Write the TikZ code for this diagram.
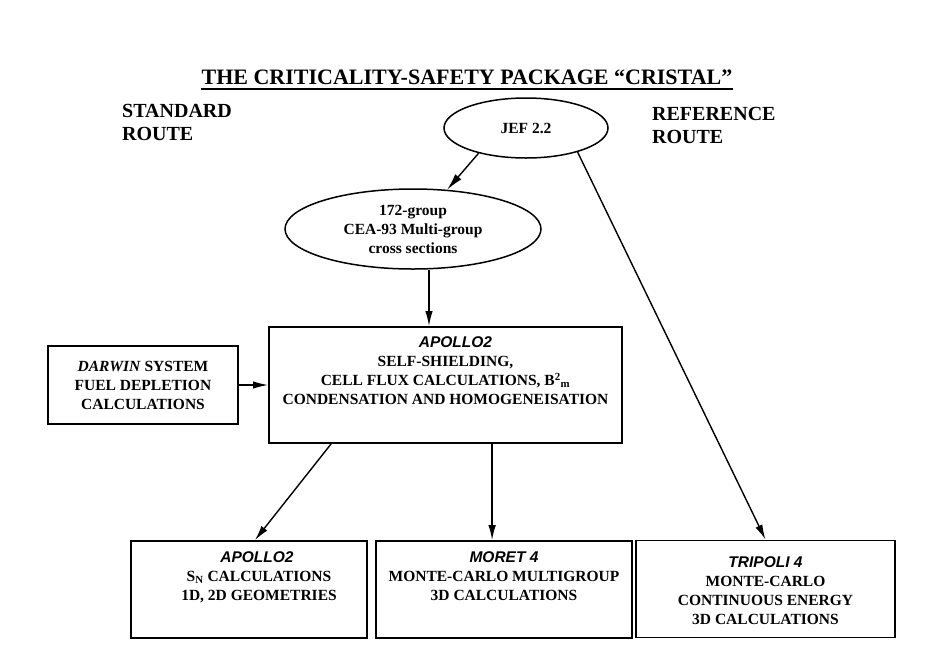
\documentclass[tikz,border=0pt]{standalone}
\usepackage{fontspec}
\setmainfont{Liberation Serif}
\newfontfamily\progfont{Liberation Sans}
\usetikzlibrary{shapes.geometric,arrows.meta}

% code names are set in a bold italic sans
\newcommand\prog[1]{{\progfont\bfseries\itshape #1}}
% top-aligned centred text block of fixed size: width, height, top gap, lines
\newcommand\boxtext[4]{\parbox[c][#2][t]{#1}{\centering\vspace*{#3}#4}}

\tikzset{
  every node/.style={font=\bfseries\fontsize{15.5}{19}\selectfont},
  box/.style={draw, line width=1.8pt, inner sep=0pt, align=center},
  oval/.style={draw, ellipse, line width=1.5pt, inner sep=0pt, align=center},
  arrow/.style={line width=1.4pt, -{Latex[length=15pt,width=7.5pt]}},
  heading/.style={font=\bfseries\fontsize{20}{23}\selectfont, align=left,
                  anchor=base west, inner sep=0pt},
}

\begin{document}
\begin{tikzpicture}[x=1pt, y=-1pt]
\useasboundingbox (0,0) rectangle (934,654);

% title, underlined with a heavy rule
\node[font=\bfseries\fontsize{22}{26}\selectfont, anchor=base, inner sep=0pt]
  (title) at (467,84) {THE CRITICALITY-SAFETY PACKAGE “CRISTAL”};
\draw[line width=1.8pt] ([yshift=-5pt]title.base west) -- ([yshift=-5pt]title.base east);

% route headings (base anchor sits on the last line)
\node[heading] (std) at (122,140) {STANDARD\\ROUTE};
\node[heading] (ref) at (652,143) {REFERENCE\\ROUTE};

% data libraries
\node[oval, minimum width=164pt, minimum height=60pt] (jef) at (526,128) {JEF 2.2};
\node[oval, minimum width=256pt, minimum height=80pt] (lib) at (413,229)
  {172-group\\CEA-93 Multi-group\\cross sections};

% cell code
\node[box] (cell) at (445.5,385)
  {\boxtext{353pt}{116pt}{10pt}{\hspace*{20pt}\prog{APOLLO2}\\
    SELF-SHIELDING,\\
    CELL FLUX CALCULATIONS, B\textsuperscript{2}\textsubscript{m}\\
    CONDENSATION AND HOMOGENEISATION}};

\node[box, minimum width=190pt, minimum height=78pt] (darwin) at (143,385)
  {\textit{DARWIN} SYSTEM\\FUEL DEPLETION\\CALCULATIONS};

% core calculation codes
\node[box] (sn) at (249,589.5)
  {\boxtext{236pt}{97pt}{11pt}{\hspace*{16pt}\prog{APOLLO2}\\
    \hspace*{20pt}S\textsubscript{N} CALCULATIONS\\
    \hspace*{20pt}1D, 2D GEOMETRIES}};
\node[box] (moret) at (504,589.5)
  {\boxtext{256pt}{97pt}{11pt}{\prog{MORET 4}\\MONTE-CARLO MULTIGROUP\\3D CALCULATIONS}};
\node[box] (tripoli) at (765.5,589)
  {\boxtext{259pt}{97pt}{16pt}{\prog{TRIPOLI 4}\\MONTE-CARLO\\CONTINUOUS ENERGY\\3D CALCULATIONS}};

% connectors
\draw[arrow, -{Latex[length=17pt,width=8pt]}] (jef.208) -- (lib.49);
\draw[arrow] (jef.-25) -- (tripoli.north);
\draw[arrow] ([xshift=16pt]lib.south) -- ([xshift=16pt]lib.south |- cell.north);
\draw[arrow] (darwin.east) -- (cell.west |- darwin.east);
\draw[arrow] ([xshift=63pt]cell.south west) -- ([xshift=6pt]sn.north);
\draw[arrow] ([xshift=224pt]cell.south west) -- ([xshift=224pt]cell.south west |- moret.north);
\end{tikzpicture}
\end{document}
